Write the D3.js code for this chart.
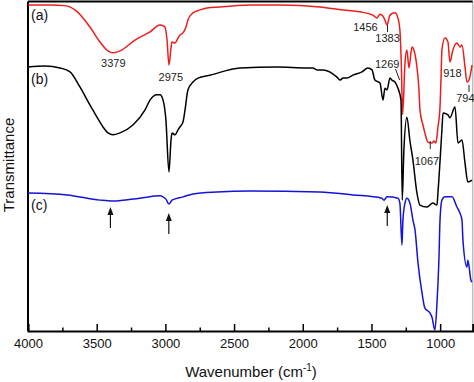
<!DOCTYPE html>
<html><head><meta charset="utf-8">
<script src="https://cdn.jsdelivr.net/npm/d3@7"></script>
<style>body{margin:0;background:#fff}svg{display:block}text{font-family:"Liberation Sans",Arial,sans-serif}</style>
</head><body><svg id="c" width="474" height="382"></svg>
<script>
// Wavenumbers (cm^-1) and transmittance (a.u., offset traces)
const redWn = [4000,3840,3731,3658,3549,3476,3418,3381,3330,3221,3112,3039,3003,2988,2974,2959,2952,2930,2908,2894,2872,2850,2836,2799,2748,2697,2603,2508,2384,2166,1875,1707,1584,1489,1460,1438,1416,1402,1387,1365,1329,1307,1293,1283,1273,1256,1242,1227,1205,1190,1169,1154,1147,1125,1111,1089,1060,1045,1031,1016,1001,994,987,965,943,929,907,878,856,841,819,805,790,768];
const redT  = [99.4,99.4,99.2,97.9,92.7,88.1,85.4,84.8,85.4,88.7,91.2,93.3,92.7,88.7,81.1,86.3,88.1,87.8,89.3,90.2,90.9,92.7,94.8,97.0,97.9,98.5,98.8,99.1,99.4,99.4,98.8,97.9,97.3,96.3,95.4,96.6,96.0,94.8,93.3,96.3,97.0,95.4,91.8,82.0,66.0,81.7,85.7,80.2,86.6,85.5,80.5,73.5,67.4,62.8,60.4,57.6,57.3,57.9,57.3,62.2,68.3,76.5,85.7,89.3,88.1,82.0,85.7,87.8,86.6,87.2,80.5,75.9,76.5,81.1];

const blackWn = [4000,3876,3767,3694,3622,3549,3498,3454,3418,3381,3330,3236,3148,3112,3061,3039,3017,2996,2974,2959,2952,2930,2908,2894,2872,2857,2836,2799,2763,2675,2457,2188,1969,1926,1897,1853,1751,1729,1707,1678,1635,1569,1526,1496,1475,1438,1416,1402,1387,1365,1351,1329,1307,1285,1276,1264,1242,1220,1198,1169,1147,1096,1053,1023,1016,987,979,943,929,892,870,841,819,798,768];
const blackT  = [80.5,80.8,80.2,79.0,74.4,68.9,65.2,62.2,60.4,59.8,60.4,62.8,67.4,70.4,72.0,72.0,70.4,64.3,48.5,58.2,60.4,59.8,61.3,62.2,63.7,67.4,73.5,75.9,77.1,78.0,80.2,80.5,80.2,80.2,79.6,79.6,77.4,76.5,77.1,77.1,78.0,79.0,80.2,79.6,76.5,75.6,70.4,74.0,73.5,77.1,76.5,75.9,74.0,70.4,39.9,55.0,65.2,58.0,52.1,42.1,38.4,37.8,39.0,38.4,42.1,61.3,66.5,65.9,65.0,68.3,57.3,58.2,51.2,45.4,46.0];

const blueWn = [4000,3716,3476,3381,3185,3039,3017,2996,2974,2952,2872,2799,2624,2384,1875,1635,1424,1409,1387,1307,1293,1278,1271,1256,1242,1220,1198,1183,1161,1132,1111,1074,1060,1038,1023,1009,1001,987,965,914,878,856,841,834,805,798,776,768];
const blueT  = [42.1,41.5,39.9,39.6,40.5,41.2,40.9,40.2,38.7,39.9,40.9,41.8,42.4,42.7,42.4,41.5,40.5,39.9,40.9,40.5,39.0,26.2,33.8,39.0,40.5,39.0,33.8,30.8,20.7,11.6,7.0,5.5,4.3,0.3,8.5,21.6,33.8,39.9,40.9,40.9,37.8,36.0,33.8,27.7,19.5,21.6,15.5,14.9];

const xTicks = [4000,3500,3000,2500,2000,1500,1000];
const xMinor = [3750,3250,2750,2250,1750,1250];
const traceLabels = ["(a)","(b)","(c)"];
const peakLabels = [
  {t:"3379", wn:3379, dx:0,  y:67},
  {t:"2975", wn:2975, dx:2,  y:81},
  {t:"1456", wn:1456, dx:-12,y:31},
  {t:"1383", wn:1383, dx:0,  y:42},
  {t:"1269", wn:1269, dx:-16,y:68},
  {t:"1067", wn:1067, dx:-4, y:165},
  {t:"918",  wn:918,  dx:1,  y:77},
  {t:"794",  wn:794,  dx:-3, y:102}
];
const arrowWn = [3400, 2975, 1385];

const svg = d3.select("#c");
const L=28, R=472.7, T=1.5, B=331;
const x = d3.scaleLinear().domain([4000,763]).range([L,R]);
const y = d3.scaleLinear().domain([0,100]).range([B,3]);

// frame
svg.append("line").attr("x1",R).attr("x2",R).attr("y1",T).attr("y2",B).attr("stroke","#bbb").attr("stroke-width",1.5);
svg.append("line").attr("x1",L).attr("x2",R).attr("y1",T).attr("y2",T).attr("stroke","#000").attr("stroke-width",2.2);
svg.append("line").attr("x1",L).attr("x2",L).attr("y1",T).attr("y2",B).attr("stroke","#000").attr("stroke-width",2);

const line = d3.line().x(d=>x(d[0])).y(d=>y(d[1])).curve(d3.curveMonotoneX);
const series = [
  {wn:redWn, t:redT, c:"#ee1c1c"},
  {wn:blackWn, t:blackT, c:"#000"},
  {wn:blueWn, t:blueT, c:"#1414d8"}
];
series.forEach(s=>{
  svg.append("path").datum(s.wn.map((w,i)=>[w,s.t[i]]))
    .attr("d",line).attr("fill","none").attr("stroke",s.c).attr("stroke-width",1.5).attr("stroke-linejoin","round");
});

// x axis
const ax = svg.append("g").attr("transform",`translate(0,${B})`)
  .call(d3.axisBottom(x).tickValues(xTicks).tickFormat(d3.format("d")).tickSize(-7).tickPadding(8));
ax.select(".domain").attr("stroke-width",2);
ax.selectAll(".tick line").attr("stroke-width",1.5);
ax.selectAll("text").attr("font-size",13).attr("fill","#111").style("font-family","Liberation Sans, Arial");
const am = svg.append("g").attr("transform",`translate(0,${B})`)
  .call(d3.axisBottom(x).tickValues(xMinor).tickFormat("").tickSize(-3.5));
am.select(".domain").remove();
am.selectAll(".tick line").attr("stroke-width",1.5);

// axis titles
const xt = svg.append("text").attr("x",251).attr("y",377).attr("text-anchor","middle").attr("font-size",15).attr("fill","#111");
xt.append("tspan").text("Wavenumber (cm");
xt.append("tspan").attr("dy",-6).attr("font-size",10).text("-1");
xt.append("tspan").attr("dy",6).text(")");
svg.append("text").attr("transform","translate(14,165) rotate(-90)").attr("text-anchor","middle").attr("font-size",15).attr("fill","#111").text("Transmittance");

// trace labels
const tlY=[20,84,210];
traceLabels.forEach((t,i)=>svg.append("text").attr("x",31).attr("y",tlY[i]).attr("font-size",14).attr("fill","#111").text(t));

// peak labels
peakLabels.forEach(p=>svg.append("text").attr("x",x(p.wn)+p.dx).attr("y",p.y).attr("text-anchor","middle").attr("font-size",11).attr("fill","#222").text(p.t));
// leader lines
svg.append("line").attr("x1",x(1383)).attr("x2",x(1383)).attr("y1",25).attr("y2",32).attr("stroke","#222");
svg.append("line").attr("x1",x(1072)).attr("x2",x(1072)).attr("y1",141).attr("y2",149).attr("stroke","#222");
svg.append("line").attr("x1",x(790)).attr("x2",x(790)).attr("y1",85).attr("y2",92).attr("stroke","#222");
svg.append("line").attr("x1",x(1325)).attr("x2",x(1295)).attr("y1",69).attr("y2",80).attr("stroke","#222");

// arrows
const arrowTip=[207,213,205];
arrowWn.forEach((w,i)=>{
  const ax0=x(w), tip=arrowTip[i];
  svg.append("line").attr("x1",ax0).attr("x2",ax0).attr("y1",tip+4).attr("y2",tip+21).attr("stroke","#111").attr("stroke-width",1.2);
  svg.append("path").attr("d",`M${ax0},${tip} L${ax0-3},${tip+8} L${ax0+3},${tip+8} Z`).attr("fill","#111");
});
</script></body></html>
